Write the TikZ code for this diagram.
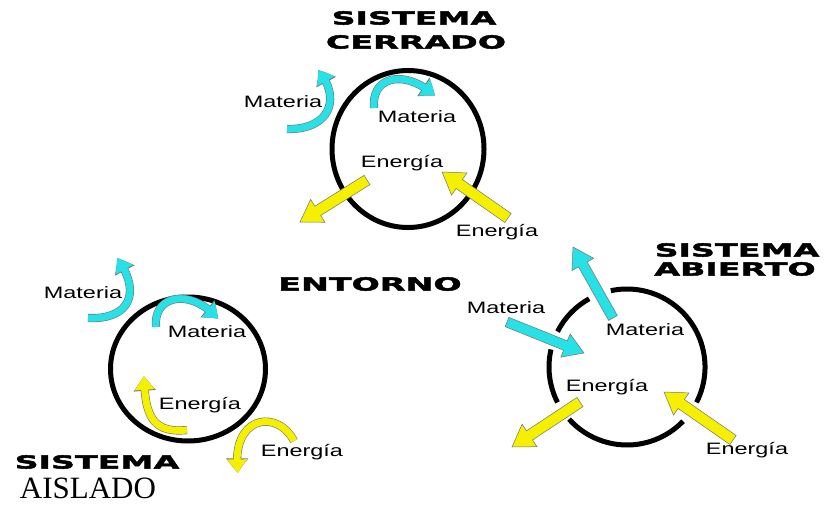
\documentclass[tikz,border=0pt]{standalone}
\usepackage{fontspec}
\usetikzlibrary{arrows.meta,bending,calc,shapes.geometric}
\newfontfamily\lblfont[FakeStretch=1.42]{Liberation Sans}
\newfontfamily\heavyfont[FakeStretch=1.85,FakeBold=2.5]{DejaVu Sans}
\newfontfamily\serifont{Liberation Serif}
\definecolor{acyan}{RGB}{40,225,230}
\definecolor{ayellow}{RGB}{245,240,0}
\tikzset{
  ring/.style={draw, ellipse, line width=5pt, inner sep=0pt},
  ringline/.style={line width=5pt},
  lbl/.style={font=\lblfont\fontsize{16.5}{18}\selectfont, inner sep=0pt},
  ttl/.style={font=\heavyfont\bfseries\fontsize{18}{20}\selectfont, inner sep=0pt},
}
\newcommand\blockarrow[6]{%
  \coordinate (nk) at ($(#3)!#6pt!(#2)$);
  \filldraw[fill=#1, draw=black!55, line width=0.5pt, line join=miter]
   ($(#2)!#4*0.5pt!90:(#3)$) -- ($(nk)!#4*0.5pt!-90:(#2)$) -- ($(nk)!#5*0.5pt!-90:(#2)$) -- (#3)
   -- ($(nk)!#5*0.5pt!90:(#2)$) -- ($(nk)!#4*0.5pt!90:(#2)$) -- ($(#2)!#4*0.5pt!-90:(#3)$) -- cycle;}
\newcommand\curvearrow[2]{%
  \draw[line width=8.2pt, black!55, -{Triangle[length=15pt,width=21pt,bend]}] #2;
  \draw[line width=7pt, #1, -{Triangle[length=14pt,width=19pt,bend]}] #2;}
\begin{document}
\begin{tikzpicture}[x=1pt,y=-1pt]
\useasboundingbox (0,0) rectangle (826,505);
% ---------- titles
\node[ttl] (t1) at (414,18) {SISTEMA};
\node[ttl] (t2) at (416,42) {CERRADO};
\node[ttl] (t3) at (370,284) {ENTORNO};
\node[ttl] (t4) at (737,250) {SISTEMA};
\node[ttl] (t5) at (735,269) {ABIERTO};
\node[ttl] (t6) at (97,462) {SISTEMA};
\node[font=\serifont\fontsize{31}{33}\selectfont, inner sep=0pt] (t7) at (88,488) {AISLADO};
% ---------- rings
\node[ring, minimum width=152pt, minimum height=157pt] (closed) at (408,149) {};
\node[ring, minimum width=155pt, minimum height=144pt] (isol) at (188,369) {};
\coordinate (openc) at (627,367);
\draw[ringline] ([shift={(-119:78)}]openc) arc[start angle=-119,end angle=-153,radius=78];
\draw[ringline] ([shift={(-167:78)}]openc) arc[start angle=-167,end angle=-207,radius=78];
\draw[ringline] ([shift={(-222:78)}]openc) arc[start angle=-222,end angle=-316,radius=78];
\draw[ringline] ([shift={(-333:78)}]openc) arc[start angle=-333,end angle=-462,radius=78];
% ---------- closed system arrows
\curvearrow{acyan}{(287,129) .. controls (330,130) and (342,98) .. (318,70)}
\curvearrow{acyan}{(374,108) .. controls (371,74) and (408,70) .. (435,96)}
\coordinate (ca1) at (367,180); \coordinate (cb1) at (300,222);
\coordinate (ca2) at (508,218); \coordinate (cb2) at (442,172);
\blockarrow{ayellow}{ca1}{cb1}{11}{27}{21}
\blockarrow{ayellow}{ca2}{cb2}{11}{27}{21}
% ---------- isolated system arrows
\curvearrow{acyan}{(88,318) .. controls (130,320) and (142,292) .. (117,258)}
\curvearrow{acyan}{(156,327) .. controls (153,294) and (192,288) .. (218,319)}
\curvearrow{ayellow}{(187,430) .. controls (150,434) and (145,412) .. (144,376)}
\curvearrow{ayellow}{(294,441) .. controls (277,408) and (230,416) .. (238,473)}
% ---------- open system arrows
\coordinate (oa1) at (613,318); \coordinate (ob1) at (573,247);
\coordinate (oa2) at (507,322); \coordinate (ob2) at (584,353);
\coordinate (oa3) at (580,402); \coordinate (ob3) at (512,447);
\coordinate (oa4) at (733,440); \coordinate (ob4) at (664,392);
\blockarrow{acyan}{oa1}{ob1}{10}{25}{20}
\blockarrow{acyan}{oa2}{ob2}{10}{25}{20}
\blockarrow{ayellow}{oa3}{ob3}{11}{27}{21}
\blockarrow{ayellow}{oa4}{ob4}{11}{27}{21}
% ---------- labels
\node[lbl] (cm1) at (283,102) {Materia};
\node[lbl] (cm2) at (417,117) {Materia};
\node[lbl] (ce1) at (402,163) {Energía};
\node[lbl] (ce2) at (497,232) {Energía};
\node[lbl] (im1) at (83,293) {Materia};
\node[lbl] (im2) at (207,332) {Materia};
\node[lbl] (ie1) at (200,405) {Energía};
\node[lbl] (ie2) at (302,452) {Energía};
\node[lbl] (om1) at (506,308) {Materia};
\node[lbl] (om2) at (645,330) {Materia};
\node[lbl] (oe1) at (607,387) {Energía};
\node[lbl] (oe2) at (747,450) {Energía};
\end{tikzpicture}
\end{document}
